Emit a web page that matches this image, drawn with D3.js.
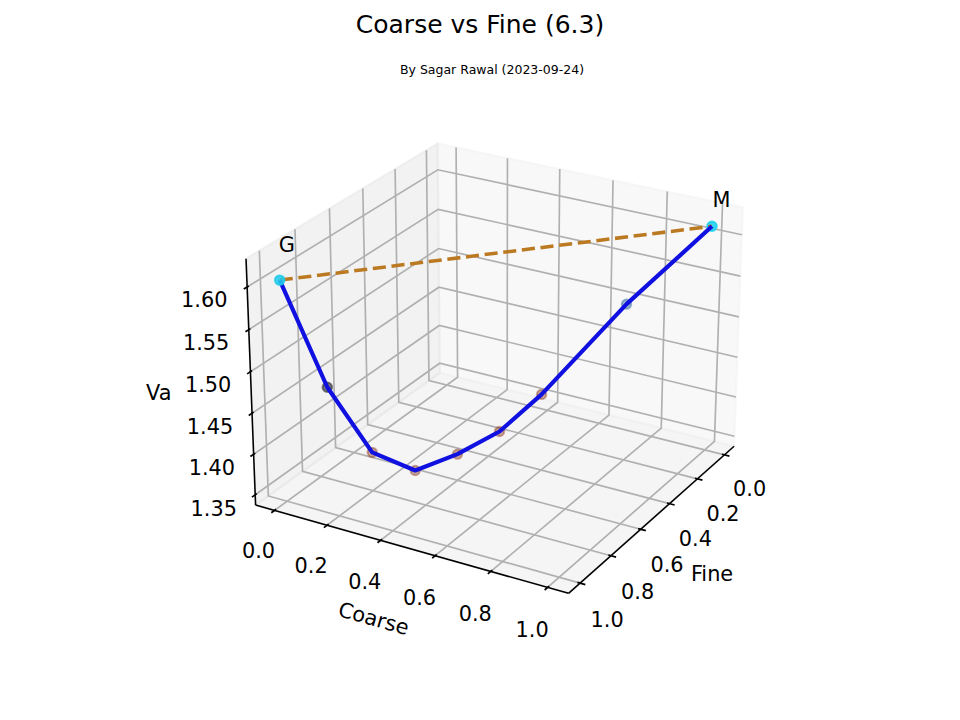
<!DOCTYPE html>
<html>
<head>
<meta charset="utf-8">
<script src="https://cdn.jsdelivr.net/npm/d3@7"></script>
<style>
  html, body { margin: 0; padding: 0; background: #fff; }
  svg { display: block; font-family: "DejaVu Sans", sans-serif; }
</style>
</head>
<body>
<svg id="chart" width="960" height="720"></svg>
<script>
// mix series: fine fraction, coarse fraction, Va
const FINE = [1.0, 0.9, 0.8, 0.7, 0.6, 0.5, 0.4, 0.2, 0.0];
const COARSE = [0.0, 0.1, 0.2, 0.3, 0.4, 0.5, 0.6, 0.8, 1.0];
const VA = [1.604, 1.471, 1.385, 1.356, 1.370, 1.392, 1.432, 1.531, 1.614];
const END_NAMES = ["G", "M"];
const END_INDEX = [0, 8];
const NAME_VA = 1.637;

const FINE_TICKS = [0, 0.2, 0.4, 0.6, 0.8, 1.0];
const COARSE_TICKS = [0, 0.2, 0.4, 0.6, 0.8, 1.0];
const VA_TICKS = [1.35, 1.40, 1.45, 1.50, 1.55, 1.60];

const W = 960, H = 720, DPI = 150;
const PT = DPI / 72;
const ELEV = 25, AZIM = 30, DIST = 10;

const svg = d3.select("#chart");
svg.append("rect").attr("width", W).attr("height", H).attr("fill", "#fff");

// square 3d axes inside the default subplot area
const axSize = H * 0.77;
const axLeft = W * 0.125 + (W * 0.775 - axSize) / 2;
const axTop = H * 0.12;

const BOX = [4, 4, 3].map(b => b * 1.8294640721620434 / Math.hypot(4, 4, 3));

function withMargin(ext) {
    const d = (ext[1] - ext[0]) * 0.05;
    return [ext[0] - d, ext[1] + d];
}

const x = d3.scaleLinear().domain(withMargin(d3.extent(FINE))).range([0, BOX[0]]);
const y = d3.scaleLinear().domain(withMargin(d3.extent(COARSE))).range([0, BOX[1]]);
const z = d3.scaleLinear().domain(withMargin(d3.extent(VA))).range([0, BOX[2]]);

// perspective camera
const el = ELEV * Math.PI / 180, az = AZIM * Math.PI / 180;
const viewDir = [Math.cos(el) * Math.cos(az), Math.cos(el) * Math.sin(az), Math.sin(el)];
const eye = BOX.map((b, i) => b / 2 + DIST * viewDir[i]);
const cross = (a, b) => [a[1] * b[2] - a[2] * b[1], a[2] * b[0] - a[0] * b[2], a[0] * b[1] - a[1] * b[0]];
const dot = (a, b) => a[0] * b[0] + a[1] * b[1] + a[2] * b[2];
let camU = cross([0, 0, 1], viewDir);
const uLen = Math.hypot(...camU);
camU = camU.map(c => c / uLen);
const camV = cross(viewDir, camU);

const sx = d3.scaleLinear().domain([-0.095, 0.09]).range([axLeft, axLeft + axSize]);
const sy = d3.scaleLinear().domain([-0.095, 0.09]).range([axTop + axSize, axTop]);

function project(p) {
    const d = p.map((c, i) => c - eye[i]);
    const depth = -dot(viewDir, d);
    return [sx(dot(camU, d) / depth), sy(dot(camV, d) / depth)];
}
const toScreen = (f, c, va) => project([x(f), y(c), z(va)]);
const line2d = d3.line();

// box edges (slightly padded like matplotlib)
const lo = BOX.map(b => -b / 48);
const hi = BOX.map(b => b + b / 48);
const center = BOX.map(b => b / 2);
const delta = BOX.map(b => b / 12);

// panes
const panes = [
    { pts: [[lo[0], lo[1], lo[2]], [hi[0], lo[1], lo[2]], [hi[0], hi[1], lo[2]], [lo[0], hi[1], lo[2]]], color: "rgb(236,236,236)" },
    { pts: [[lo[0], lo[1], lo[2]], [lo[0], hi[1], lo[2]], [lo[0], hi[1], hi[2]], [lo[0], lo[1], hi[2]]], color: "rgb(242,242,242)" },
    { pts: [[lo[0], lo[1], lo[2]], [hi[0], lo[1], lo[2]], [hi[0], lo[1], hi[2]], [lo[0], lo[1], hi[2]]], color: "rgb(230,230,230)" }
];
svg.append("g").selectAll("path")
    .data(panes)
    .enter()
    .append("path")
    .attr("d", d => line2d(d.pts.map(project)) + "Z")
    .attr("fill", d => d.color)
    .attr("fill-opacity", 0.5)
    .attr("stroke", d => d.color)
    .attr("stroke-opacity", 0.5)
    .attr("stroke-width", PT);

// grid lines
const grid = [];
FINE_TICKS.forEach(t => grid.push([[x(t), hi[1], lo[2]], [x(t), lo[1], lo[2]], [x(t), lo[1], hi[2]]]));
COARSE_TICKS.forEach(t => grid.push([[lo[0], y(t), hi[2]], [lo[0], y(t), lo[2]], [hi[0], y(t), lo[2]]]));
VA_TICKS.forEach(t => grid.push([[hi[0], lo[1], z(t)], [lo[0], lo[1], z(t)], [lo[0], hi[1], z(t)]]));
svg.append("g").selectAll("path")
    .data(grid)
    .enter()
    .append("path")
    .attr("d", d => line2d(d.map(project)))
    .attr("fill", "none")
    .attr("stroke", "#b0b0b0")
    .attr("stroke-width", 0.8 * PT);

// axes
const FS = 10 * PT;
const perPoint = 48 / (72 * 2 * axSize / DPI);
const tickLabelOff = (3.5 + 8) * perPoint;
const axisLabelOff = (4 + 21) * perPoint;

function awayFromCenter(p, skip, k) {
    return p.map((c, i) => i === skip ? c : c + (c < center[i] ? -1 : 1) * k * delta[i]);
}

const axes = [
    { index: 0, scale: x, ticks: FINE_TICKS, fmt: d3.format(".1f"), tickdir: 1,
      edge: [[lo[0], hi[1], lo[2]], [hi[0], hi[1], lo[2]]], label: "Fine" },
    { index: 1, scale: y, ticks: COARSE_TICKS, fmt: d3.format(".1f"), tickdir: 0,
      edge: [[hi[0], lo[1], lo[2]], [hi[0], hi[1], lo[2]]], label: "Coarse" },
    { index: 2, scale: z, ticks: VA_TICKS, fmt: d3.format(".2f"), tickdir: 0,
      edge: [[hi[0], lo[1], lo[2]], [hi[0], lo[1], hi[2]]], label: "Va" }
];

axes.forEach(a => {
    const g = svg.append("g");
    const ends = a.edge.map(project);
    g.append("path")
        .attr("d", line2d(ends))
        .attr("stroke", "#000")
        .attr("stroke-width", 0.75 * PT);

    const e = a.edge[0][a.tickdir];
    const out = e > center[a.tickdir] ? 1 : -1;
    a.ticks.forEach(t => {
        const base = a.edge[0].slice();
        base[a.index] = a.scale(t);
        const p1 = base.slice(), p2 = base.slice();
        p1[a.tickdir] = e + out * 0.2 * delta[a.tickdir];
        p2[a.tickdir] = e - out * 0.1 * delta[a.tickdir];
        g.append("path")
            .attr("d", line2d([project(p1), project(p2)]))
            .attr("stroke", "#000")
            .attr("stroke-width", 0.8 * PT);

        const lp = project(awayFromCenter(base, a.index, tickLabelOff));
        g.append("text")
            .attr("x", lp[0])
            .attr("y", lp[1] + 0.76 * FS)
            .attr("text-anchor", "middle")
            .style("font-size", FS + "px")
            .text(a.fmt(t));
    });

    // axis label
    const mid = a.edge[0].map((c, i) => (c + a.edge[1][i]) / 2);
    const lp = project(awayFromCenter(mid, a.index, axisLabelOff));
    let angle = 0;
    if (a.label.length > 4) {
        angle = Math.atan2(ends[1][1] - ends[0][1], ends[1][0] - ends[0][0]) * 180 / Math.PI;
        if (angle > 90) angle -= 180;
        if (angle <= -90) angle += 180;
    }
    g.append("text")
        .attr("transform", `translate(${lp[0]},${lp[1]}) rotate(${angle})`)
        .attr("dy", "0.276em")
        .attr("text-anchor", "middle")
        .style("font-size", FS + "px")
        .text(a.label);
});

// data
const pointColor = d3.scaleLinear()
    .domain([1.43, 1.47, 1.53, 1.61])
    .range(["#8a3a1e", "#2c2c36", "#4876a6", "#1ed2f0"])
    .clamp(true);
const pointAlpha = d3.scaleLinear()
    .domain([1.43, 1.47, 1.53, 1.61])
    .range([0.42, 0.62, 0.52, 0.9])
    .clamp(true);

const points = VA.map((va, i) => ({ i, va, p: toScreen(FINE[i], COARSE[i], va) }));
const R = Math.sqrt(20) / 2 * PT;

function drawPoints(g, data) {
    g.selectAll("circle")
        .data(data)
        .enter()
        .append("circle")
        .attr("cx", d => d.p[0])
        .attr("cy", d => d.p[1])
        .attr("r", R)
        .attr("fill", d => pointColor(d.va))
        .attr("fill-opacity", d => pointAlpha(d.va))
        .attr("stroke", d => pointColor(d.va))
        .attr("stroke-opacity", d => pointAlpha(d.va))
        .attr("stroke-width", PT);
}

// G marker sits above the lines, the rest below
drawPoints(svg.append("g"), points.filter(d => d.i !== END_INDEX[0]));

const endPts = END_INDEX.map(i => points[i].p);
svg.append("path")
    .attr("d", line2d(endPts))
    .attr("fill", "none")
    .attr("stroke", "#bb7a22")
    .attr("stroke-width", 1.7 * PT)
    .attr("stroke-dasharray", `${3.7 * 1.7 * PT},${1.6 * 1.7 * PT}`);

svg.append("path")
    .attr("d", line2d(points.map(d => d.p)))
    .attr("fill", "none")
    .attr("stroke", "#1010e0")
    .attr("stroke-width", 2 * PT)
    .attr("stroke-linejoin", "round");

drawPoints(svg.append("g"), points.filter(d => d.i === END_INDEX[0]));

// G / M names
END_INDEX.forEach((idx, k) => {
    const p = toScreen(FINE[idx], COARSE[idx], NAME_VA);
    svg.append("text")
        .attr("x", p[0])
        .attr("y", p[1])
        .style("font-size", FS + "px")
        .text(END_NAMES[k]);
});

// titles
svg.append("text")
    .attr("x", W / 2)
    .attr("y", 0.02 * H + 0.76 * 12 * PT)
    .attr("text-anchor", "middle")
    .style("font-size", 12 * PT + "px")
    .text("Coarse vs Fine (6.3)");

svg.append("text")
    .attr("x", axLeft + axSize / 2)
    .attr("y", axTop - 6 * PT)
    .attr("text-anchor", "middle")
    .style("font-size", 6 * PT + "px")
    .text("By Sagar Rawal (2023-09-24)");
</script>
</body>
</html>
